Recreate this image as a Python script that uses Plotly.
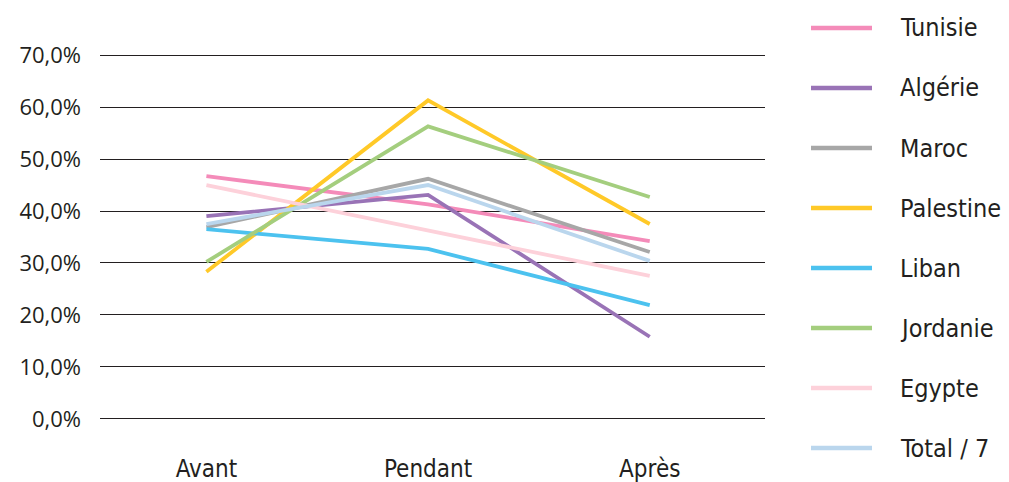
import plotly.graph_objects as go

periods = ["Avant", "Pendant", "Après"]
countries = ["Tunisie", "Algérie", "Maroc", "Palestine", "Liban", "Jordanie", "Egypte", "Total / 7"]
tunisie = [46.7, 41.3, 34.2]
algerie = [39.0, 43.1, 15.8]
maroc = [36.9, 46.2, 32.1]
palestine = [28.3, 61.3, 37.5]
liban = [36.5, 32.7, 21.9]
jordanie = [30.2, 56.3, 42.7]
egypte = [45.0, 36.2, 27.5]
total7 = [37.5, 45.0, 30.4]
series = [tunisie, algerie, maroc, palestine, liban, jordanie, egypte, total7]
colors = ["#F48BB9", "#9973B6", "#A7A7A7", "#FFC928", "#4CC2EF", "#A4CE7E", "#FDD1DA", "#BAD6ED"]
y_ticks = [0, 10, 20, 30, 40, 50, 60, 70]
y_ticktext = [f"{v:.1f}%".replace(".", ",") for v in y_ticks]

fig = go.Figure()
for name, vals, col in zip(countries, series, colors):
    fig.add_trace(go.Scatter(x=periods, y=vals, mode="lines", name=name,
                             line=dict(color=col, width=3.8), showlegend=False))

# plot area: 0% at y=419px, 70% at y=55px; range padded by 1 unit each side
L, R = 100, 765
T, B = 50, 424
W, H = R - L, B - T
cond = "Liberation Sans Narrow, DejaVu Sans Condensed"
for i, (name, col) in enumerate(zip(countries, colors)):
    py = 28 + 60 * i
    yp = (B - py) / H
    fig.add_shape(type="line", xref="paper", yref="paper",
                  x0=(811 - L) / W, x1=(872 - L) / W, y0=yp, y1=yp,
                  line=dict(color=col, width=4.5))
    fig.add_annotation(xref="paper", yref="paper", x=(898 - L) / W, y=yp,
                       text=name, showarrow=False, xanchor="left", yanchor="middle",
                       font=dict(family=cond, size=25, color="#231F20"))

fig.update_layout(
    width=1009, height=482,
    margin=dict(l=L, r=1009 - R, t=T, b=482 - B),
    paper_bgcolor="white", plot_bgcolor="white",
    xaxis=dict(range=[-0.48, 2.52], showgrid=False, showline=False, zeroline=False,
               ticks="", ticklabelstandoff=28, automargin=False,
               tickfont=dict(family=cond, size=24, color="#231F20")),
    yaxis=dict(range=[-1, 71], tickvals=y_ticks, ticktext=y_ticktext,
               showgrid=True, gridcolor="#231F20", gridwidth=1, zeroline=True,
               zerolinecolor="#231F20", zerolinewidth=1, showline=False,
               ticks="", ticklabelstandoff=18, automargin=False,
               tickfont=dict(family="Open Sans", size=22, color="#231F20")),
)
fig.write_html("out.html")
